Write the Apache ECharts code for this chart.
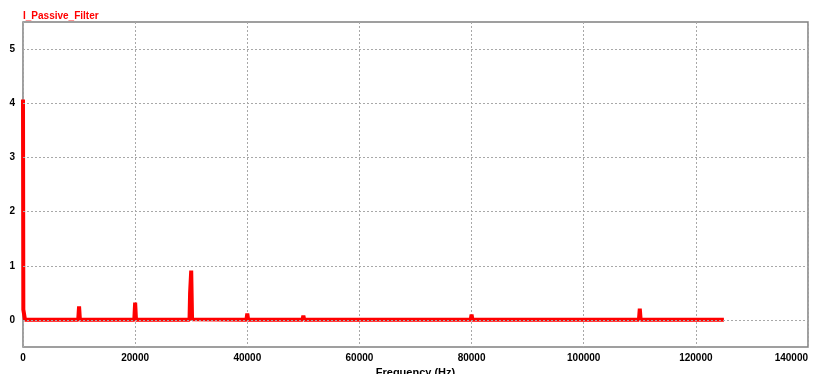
<!DOCTYPE html>
<html>
<head>
<meta charset="utf-8">
<script src="https://cdn.jsdelivr.net/npm/echarts@6/dist/echarts.min.js"></script>
<style>
html,body{margin:0;padding:0;background:#fff;}
#chart{width:813px;height:374px;}
</style>
</head>
<body>
<div id="chart"></div>
<script>
const chartTitle = 'I_Passive_Filter';
const xAxisName = 'Frequency (Hz)';
const freq = [0, 60, 350,
  9850, 10000, 10150,
  19850, 20000, 20150,
  29700, 29800, 30000, 30150,
  39850, 40000, 40150,
  49850, 50000, 50150,
  59850, 60000, 60150,
  69850, 70000, 70150,
  79850, 80000, 80150,
  89850, 90000, 90150,
  99850, 100000, 100150,
  109850, 110000, 110150,
  125000];
const amp = [4.07, 0.19, 0.005,
  0.005, 0.25, 0.005,
  0.005, 0.32, 0.005,
  0.005, 0.5, 0.91, 0.01,
  0.005, 0.12, 0.005,
  0.005, 0.08, 0.005,
  0.005, 0.03, 0.005,
  0.005, 0.02, 0.005,
  0.005, 0.10, 0.005,
  0.005, 0.03, 0.005,
  0.005, 0.015, 0.005,
  0.005, 0.21, 0.005,
  0.005];
const yTicks = [0, 1, 2, 3, 4, 5];

const chart = echarts.init(document.getElementById('chart'), null, {renderer: 'canvas'});
const font = '"Liberation Sans", Arial, sans-serif';
chart.setOption({
  animation: false,
  backgroundColor: '#ffffff',
  title: {
    text: chartTitle, left: 18, top: 6,
    textStyle: {color: '#ff0000', fontSize: 10, fontWeight: 'bold', fontFamily: font}
  },
  grid: {left: 23, right: 5, top: 22, bottom: 27, outerBoundsMode: 'none', containLabel: false,
    show: true, borderColor: '#808080', borderWidth: 1.5, backgroundColor: 'transparent'},
  xAxis: {
    type: 'value', min: 0, max: 140000, interval: 20000,
    name: xAxisName, nameLocation: 'middle', nameGap: 16,
    nameTextStyle: {color: '#000', fontSize: 11, fontWeight: 'bold', fontFamily: font},
    axisLine: {show: false}, axisTick: {show: false},
    axisLabel: {color: '#000', fontSize: 10, fontWeight: 'bold', fontFamily: font, margin: 6, alignMaxLabel: 'right',
      formatter: v => String(v)},
    splitLine: {show: true, lineStyle: {color: '#a8a8a8', type: [2, 2], width: 1}}
  },
  yAxis: {
    type: 'value', min: -0.5, max: 5.5, interval: 0.5,
    axisLine: {show: false}, axisTick: {show: false},
    axisLabel: {color: '#000', fontSize: 10, fontWeight: 'bold', fontFamily: font, margin: 8,
      formatter: v => (yTicks.indexOf(v) >= 0 ? String(v) : '')},
    splitLine: {show: false}
  },
  series: [
    {
      type: 'line', z: 1, data: [[0, 0]], showSymbol: false, silent: true,
      lineStyle: {width: 0, opacity: 0},
      markLine: {
        silent: true, symbol: 'none', label: {show: false}, animation: false,
        lineStyle: {color: '#a8a8a8', type: [2, 2], width: 1},
        data: yTicks.map(v => ({yAxis: v}))
      }
    },
    {
      type: 'line', z: 3, showSymbol: false, symbol: 'none',
      lineStyle: {color: '#ff0000', width: 4},
      itemStyle: {color: '#ff0000'},
      data: freq.map((f, i) => [f, amp[i]])
    }
  ]
});
</script>
</body>
</html>
